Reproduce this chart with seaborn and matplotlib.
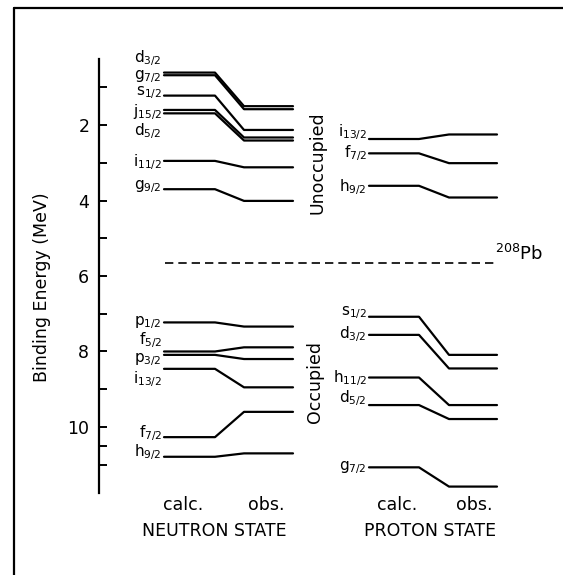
import numpy as np
import pandas as pd
import matplotlib
matplotlib.use('Agg')
from matplotlib import pyplot as plt
from matplotlib.lines import Line2D
import seaborn as sns

sns.set_style('white')
plt.rcParams['font.family'] = ['DejaVu Sans']
plt.rcParams['mathtext.fontset'] = 'dejavusans'
plt.rcParams['text.color'] = 'black'
plt.rcParams['axes.labelcolor'] = 'black'
plt.rcParams['ytick.color'] = 'black'

# single-particle levels in 208Pb, binding energy (MeV)
n_unocc_names = ['d', 'g', 's', 'j', 'd', 'i', 'g']
n_unocc_j = ['3/2', '7/2', '1/2', '15/2', '5/2', '11/2', '9/2']
n_unocc_calc = [0.61, 0.68, 1.22, 1.60, 1.69, 2.95, 3.70]
n_unocc_obs = [1.50, 1.58, 2.13, 2.33, 2.41, 3.12, 4.01]

n_occ_names = ['p', 'f', 'p', 'i', 'f', 'h']
n_occ_j = ['1/2', '5/2', '3/2', '13/2', '7/2', '9/2']
n_occ_calc = [7.23, 8.00, 8.09, 8.46, 10.27, 10.79]
n_occ_obs = [7.34, 7.89, 8.20, 8.95, 9.60, 10.70]

p_names = ['i', 'f', 'h', 's', 'd', 'h', 'd', 'g']
p_j = ['13/2', '7/2', '9/2', '1/2', '3/2', '11/2', '5/2', '7/2']
p_calc = [2.37, 2.75, 3.61, 7.08, 7.56, 8.69, 9.42, 11.07]
p_obs = [2.25, 3.01, 3.92, 8.09, 8.45, 9.42, 9.79, 11.58]

fermi = 5.65

# label nudges so the stacked labels do not collide
n_shift = [-0.38, 0.04, -0.09, 0.06, 0.48, 0.03, -0.06,
           0.0, -0.30, 0.11, 0.27, -0.11, -0.13]
p_shift = [-0.18, -0.01, 0.03, -0.12, -0.03, 0.0, -0.19, 0.0]

# column x positions (pixels): calc start, calc end, obs start, obs end
n_cols = [164, 215, 244, 293]
p_cols = [369, 419, 449, 497]

rows = []
def add_levels(tag, names, calc, obs, cols):
    for i, (c, o) in enumerate(zip(calc, obs)):
        for x, e in zip(cols, [c, c, o, o]):
            rows.append({'level': f'{tag}{i}', 'x': x, 'E': e})

n_names = n_unocc_names + n_occ_names
n_j = n_unocc_j + n_occ_j
n_calc = n_unocc_calc + n_occ_calc
n_obs = n_unocc_obs + n_occ_obs
add_levels('n', n_names, n_calc, n_obs, n_cols)
add_levels('p', p_names, p_calc, p_obs, p_cols)
df = pd.DataFrame(rows)

W, H = 563, 575
fig = plt.figure(figsize=(W / 100, H / 100), dpi=100)
ax = fig.add_axes([99 / W, 1 - 493 / H, (557 - 99) / W, (493 - 59) / H])

sns.lineplot(data=df, x='x', y='E', units='level', estimator=None,
             sort=False, color='black', lw=1.6, ax=ax, legend=False)

ax.set_xlim(99, 557)
ax.set_ylim(11.75, 0.25)
for s in ['top', 'right', 'bottom']:
    ax.spines[s].set_visible(False)
ax.spines['left'].set_linewidth(1.6)
ax.spines['left'].set_color('black')
ax.set_xticks([])
ax.set_xlabel('')
ax.set_yticks([2, 4, 6, 8, 10])
ax.set_yticks([1, 3, 5, 7, 9, 10.5, 11], minor=True)
ax.tick_params(axis='y', which='both', direction='in', length=6, width=1.4,
               labelsize=12.5, pad=7, left=True, colors='black')
ax.set_ylabel('Binding Energy (MeV)', fontsize=12.5)
ax.yaxis.set_label_coords(-0.105, 0.475)

# level labels
for nm, j, c, d in zip(n_names, n_j, n_calc, n_shift):
    ax.text(n_cols[0] - 2, c + d, f'{nm}$_{{{j}}}$', ha='right', va='center',
            fontsize=11)
for nm, j, c, d in zip(p_names, p_j, p_calc, p_shift):
    ax.text(p_cols[0] - 2, c + d, f'{nm}$_{{{j}}}$', ha='right', va='center',
            fontsize=11)

# Fermi level
ax.plot([165, 497], [fermi, fermi], color='black', lw=1.2,
        linestyle=(0, (5, 3)))
ax.text(495, 5.58, r'$^{208}$Pb', ha='left', va='baseline', fontsize=13)

ax.text(318, 3.0, 'Unoccupied', rotation=90, ha='center', va='center',
        fontsize=12.5)
ax.text(315, 8.8, 'Occupied', rotation=90, ha='center', va='center',
        fontsize=12.5)

for xc, xo, xs, lab in [(183, 266, 214, 'NEUTRON STATE'),
                        (397, 474, 430, 'PROTON STATE')]:
    ax.text(xc, 12.07, 'calc.', ha='center', va='center', fontsize=12.5,
            clip_on=False)
    ax.text(xo, 12.07, 'obs.', ha='center', va='center', fontsize=12.5,
            clip_on=False)
    ax.text(xs, 12.75, lab, ha='center', va='center', fontsize=12.5,
            clip_on=False)

# frame from the scanned page
fig.add_artist(Line2D([14 / W, 1.0], [1 - 8 / H, 1 - 8 / H],
                      color='black', lw=1.6))
fig.add_artist(Line2D([14 / W, 14 / W], [0.0, 1 - 8 / H],
                      color='black', lw=1.6))

fig.savefig('out.png', dpi=100)
